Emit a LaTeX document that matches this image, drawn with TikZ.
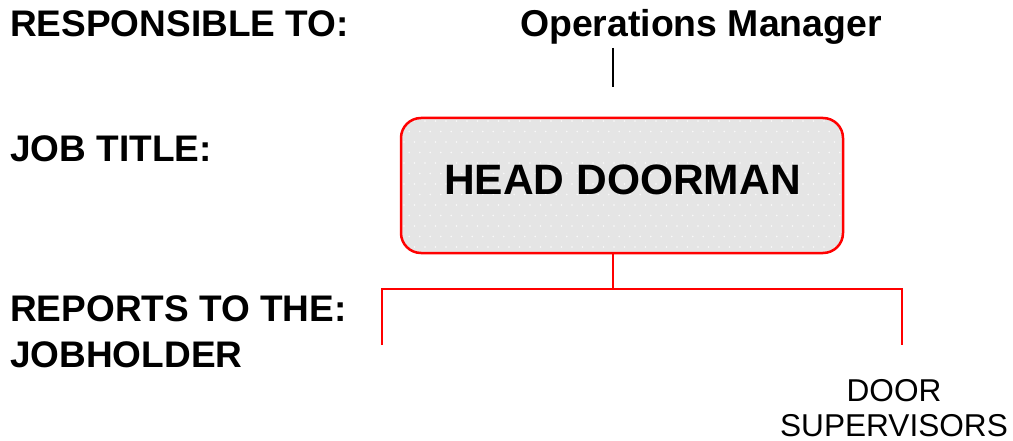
\documentclass[tikz,border=0pt]{standalone}
\usepackage{fontspec}
\setmainfont{Liberation Sans}
\definecolor{boxgray}{HTML}{E5E5E5}
\definecolor{lred}{HTML}{FF0000}
\begin{document}
\begin{tikzpicture}[x=1pt,y=-1pt,
  lbl/.style={inner sep=0pt, anchor=base west, font=\fontsize{37}{46}\selectfont\bfseries},
  redline/.style={draw=lred, line width=2.2pt},
  boxst/.style={draw=lred, line width=2.5pt, rounded corners=20pt, minimum width=442pt, minimum height=135pt, inner sep=0pt}]
\useasboundingbox (0,0) rectangle (1013,441);
% labels
\node[lbl] (resp) at (10,37) {RESPONSIBLE TO:};
\node[lbl] (jt) at (10,162) {JOB TITLE:};
\node[lbl] (rep) at (10,321) {REPORTS TO THE:};
\node[lbl] (jh) at (10,367) {JOBHOLDER};
\node[inner sep=0pt, anchor=base, font=\fontsize{37.4}{42}\selectfont\bfseries] (om) at (701,37) {Operations Manager};
% connector from manager
\coordinate (om1) at (613,48);
\coordinate (om2) at (613,87);
\draw[line width=2pt] (om1) -- (om2);
% box
\fill[boxgray, rounded corners=20pt] (401,118) rectangle (843,253);
\begin{scope}
  \clip[rounded corners=20pt] (401,118) rectangle (843,253);
  \foreach \r in {0,...,13}{
    \pgfmathsetmacro{\yy}{121+\r*10.5}
    \pgfmathsetmacro{\off}{mod(\r,2)*5.25}
    \foreach \c in {0,...,42}{
      \fill[white, opacity=0.8] (404+\off+\c*10.5,\yy) circle (0.9pt);
    }
  }
\end{scope}
\node[boxst] (hd) at (622,185.5) {};
\node[inner sep=0pt, anchor=base, font=\fontsize{42.5}{50}\selectfont\bfseries] (hdt) at (622.5,195) {HEAD DOORMAN};
% red tree
\coordinate (bl) at (382,289);
\coordinate (br) at (902,289);
\coordinate (el) at (382,345);
\coordinate (er) at (902,345);
\draw[redline] (om2 |- hd.south) -- (om2 |- bl);
\draw[redline] (el) -- (bl) -- (br) -- (er);
% door supervisors
\node[inner sep=0pt, anchor=base, font=\fontsize{31.6}{34.5}\selectfont, align=center] (ds) at (894,436) {DOOR\\SUPERVISORS};
\end{tikzpicture}
\end{document}
